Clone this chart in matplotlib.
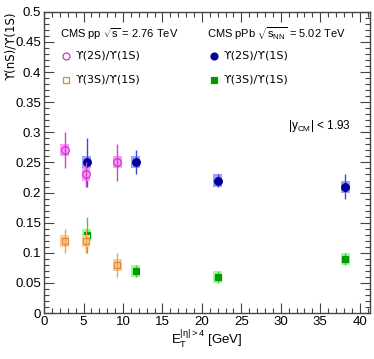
import matplotlib
matplotlib.use("Agg")
import matplotlib.pyplot as plt
from matplotlib.patches import Rectangle
from matplotlib.ticker import MultipleLocator
import numpy as np

plt.rcParams['font.family'] = ['Liberation Sans', 'DejaVu Sans']
plt.rcParams['mathtext.fontset'] = 'custom'
plt.rcParams['mathtext.rm'] = 'Liberation Sans'
plt.rcParams['mathtext.it'] = 'Liberation Sans'

# pp 2.76 TeV
pp_x = [2.6, 5.3, 9.3]
pp_2s = [0.27, 0.23, 0.25]
pp_2s_stat = [0.03, 0.02, 0.03]
pp_2s_sys = [0.01, 0.01, 0.01]
pp_3s = [0.12, 0.12, 0.08]
pp_3s_stat = [0.02, 0.02, 0.02]
pp_3s_sys = [0.01, 0.01, 0.01]

# pPb 5.02 TeV
pa_x = [5.4, 11.6, 22.0, 38.2]
pa_2s = [0.25, 0.25, 0.22, 0.21]
pa_2s_stat = [0.04, 0.02, 0.01, 0.02]
pa_2s_sys = [0.01, 0.01, 0.01, 0.01]
pa_3s = [0.13, 0.07, 0.06, 0.09]
pa_3s_stat = [0.03, 0.01, 0.01, 0.01]
pa_3s_sys = [0.01, 0.01, 0.01, 0.01]

fig = plt.figure(figsize=(3.74, 3.59), dpi=100)
ax = fig.add_axes([0.118, 0.128, 0.871, 0.839])
ax.set_xlim(0, 41.3)
ax.set_ylim(0, 0.5)

def draw(x, y, stat, sys, color, ecol, boxcolor, marker, filled, zb):
    for xi, yi, si in zip(x, y, sys):
        ax.add_patch(Rectangle((xi - 0.55, yi - si), 1.1, 2 * si,
                               facecolor=boxcolor, edgecolor='none', zorder=zb))
    ax.errorbar(x, y, yerr=stat, fmt='none', ecolor=ecol, elinewidth=1.0,
                capsize=0, zorder=zb + 1)
    ax.plot(x, y, linestyle='none', marker=marker, markersize=5.5 if marker == 'o' else 5,
            markerfacecolor=color if filled else 'none',
            markeredgecolor=color, markeredgewidth=0.9, zorder=zb + 2)

c_pp2 = '#cc33cc'; e_pp2 = '#cc44cc'; b_pp2 = '#ff99ff'
c_pp3 = '#e0883a'; e_pp3 = '#f0a050'; b_pp3 = '#ffcc99'
c_pa2 = '#000099'; e_pa2 = '#4444dd'; b_pa2 = '#a0a0ff'
c_pa3 = '#009900'; e_pa3 = '#44cc44'; b_pa3 = '#99ff99'

draw(pa_x, pa_2s, pa_2s_stat, pa_2s_sys, c_pa2, e_pa2, b_pa2, 'o', True, 2)
draw(pa_x, pa_3s, pa_3s_stat, pa_3s_sys, c_pa3, e_pa3, b_pa3, 's', True, 2)
draw(pp_x, pp_2s, pp_2s_stat, pp_2s_sys, c_pp2, e_pp2, b_pp2, 'o', False, 5)
draw(pp_x, pp_3s, pp_3s_stat, pp_3s_sys, c_pp3, e_pp3, b_pp3, 's', False, 5)

ax.xaxis.set_major_locator(MultipleLocator(5))
ax.xaxis.set_minor_locator(MultipleLocator(1))
ax.yaxis.set_major_locator(MultipleLocator(0.05))
ax.yaxis.set_minor_locator(MultipleLocator(0.01))
ax.tick_params(which='both', direction='in', top=True, right=True, labelsize=9.5, width=0.8, color='#444444', pad=2)
ax.tick_params(which='major', length=7)
ax.tick_params(which='minor', length=3.5)
ax.xaxis.set_major_formatter(matplotlib.ticker.FuncFormatter(lambda v, p: f'{v:g}'))
ax.yaxis.set_major_formatter(matplotlib.ticker.FuncFormatter(lambda v, p: f'{v:g}'))
for s in ax.spines.values():
    s.set_linewidth(1.0)
    s.set_color('#444444')

ax.set_xlabel(r'$\mathrm{E}_{\mathrm{T}}^{|\eta|>4}$ [GeV]', fontsize=9.5, loc='center', labelpad=0)
fig.text(0.012, 0.967, 'ϒ(nS)/ϒ(1S)', rotation=90, ha='left', va='top', fontsize=8.5,
         family=['DejaVu Sans'])

# legend-like text
fs = 8
fig.text(60 / 374, 1 - 34 / 359, r'CMS pp $\sqrt{s}$ = 2.76 TeV', fontsize=fs, va='center')
fig.text(207 / 374, 1 - 34 / 359, r'CMS pPb $\sqrt{s_{\mathrm{NN}}}$ = 5.02 TeV', fontsize=fs, va='center')
items = [
    (66, 56, c_pp2, 'o', False), (66, 80, c_pp3, 's', False),
    (214, 56, c_pa2, 'o', True), (214, 80, c_pa3, 's', True),
]
for px, py, col, mk, filled in items:
    fig.lines.append(matplotlib.lines.Line2D([px / 374], [1 - py / 359], transform=fig.transFigure,
                     marker=mk, markersize=5 if mk == 'o' else 4.5,
                     markerfacecolor=col if filled else 'none',
                     markeredgecolor=col, markeredgewidth=0.9, linestyle='none'))
    fig.text((px + 10) / 374, 1 - py / 359, 'ϒ(2S)/ϒ(1S)' if py == 56 else 'ϒ(3S)/ϒ(1S)',
             fontsize=fs, va='center', family=['DejaVu Sans'])

fig.text(288 / 374, 1 - 126 / 359, r'|y$_{\mathrm{CM}}$| < 1.93', fontsize=8.5, va='center')

fig.savefig('out.png', dpi=100)
